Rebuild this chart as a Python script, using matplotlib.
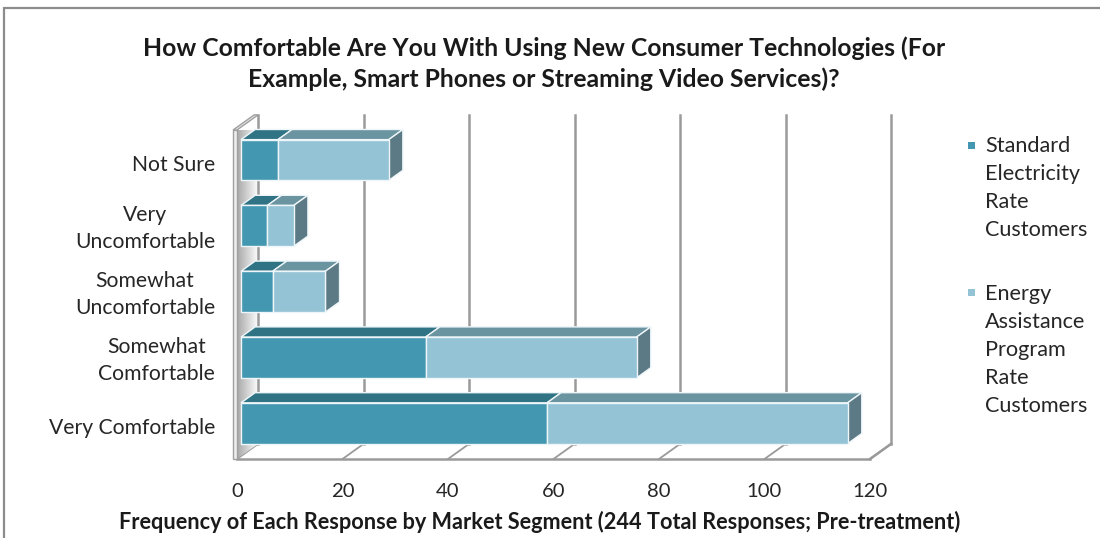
import matplotlib
matplotlib.use("Agg")
import matplotlib.pyplot as plt
import numpy as np
from matplotlib.patches import Polygon, Rectangle
from matplotlib.lines import Line2D

# ---- data -------------------------------------------------------------
categories = ["Very Comfortable", "Somewhat\nComfortable", "Somewhat\nUncomfortable",
              "Very\nUncomfortable", "Not Sure"]
standard_rate = [58, 35, 6, 5, 7]
energy_assistance = [57, 40, 10, 5, 21]
series_names = ["Standard\nElectricity\nRate\nCustomers",
                "Energy\nAssistance\nProgram\nRate\nCustomers"]
x_ticks = [0, 20, 40, 60, 80, 100, 120]

title = ("How Comfortable Are You With Using New Consumer Technologies (For\n"
         "Example, Smart Phones or Streaming Video Services)?")
x_label = "Frequency of Each Response by Market Segment (244 Total Responses; Pre-treatment)"

# ---- style ------------------------------------------------------------
FONT = ["Lato", "DejaVu Sans"]
plt.rcParams["font.family"] = FONT
TEXT = "#262626"
GRID = "#9a9a9a"
# front / top / side shades for each series
SHADES = [("#4397b0", "#2f7384", "#2a6474"),
          ("#93c3d5", "#6b94a1", "#5b7a85")]
DX, DY = 4.0, 0.23          # full depth of the plot box (value units, category units)
Z0, Z1 = 0.19, 0.86         # depth range occupied by the bars
BAR_H = 0.62
XMAX = 120

fig = plt.figure(figsize=(11, 5.38), dpi=100)
ax = fig.add_axes([237 / 1100, 1 - 459 / 538, 633 / 1100, 329 / 538])
ax.set_xlim(0, XMAX)
ax.set_ylim(-0.5, len(categories) - 0.5)
y0, y1 = -0.5, len(categories) - 0.5

# chart border
fig.patches.append(Rectangle((4 / 1100, -0.05), 1.2, 1 - 8 / 538 + 0.05,
                             transform=fig.transFigure, fill=False,
                             edgecolor="#8c8c8c", linewidth=1.6))

# back-wall gridlines
for v in x_ticks[1:]:
    ax.add_line(Line2D([v + DX, v + DX], [y0 + DY, y1 + DY], color=GRID,
                       linewidth=1.8, clip_on=False, zorder=1))
# floor: front edge, depth ticks, right edge
ax.add_line(Line2D([0, XMAX], [y0, y0], color=GRID, linewidth=1.8, clip_on=False, zorder=1))
for v in x_ticks:
    ax.add_line(Line2D([v, v + DX], [y0, y0 + DY], color=GRID, linewidth=1.3,
                       clip_on=False, zorder=1))

# left wall with a soft grey gradient
wall = Polygon([(0, y0), (0, y1), (DX, y1 + DY), (DX, y0 + DY)], closed=True,
               facecolor="none", edgecolor="none", clip_on=False)
ax.add_patch(wall)
grad = np.linspace(0.66, 1.0, 64).reshape(1, -1)
im = ax.imshow(grad, cmap="gray", vmin=0, vmax=1, extent=[0, DX, y0, y1 + DY],
               aspect="auto", zorder=1, interpolation="bicubic")
im.set_clip_path(wall)
ax.add_line(Line2D([DX, DX], [y0 + DY, y1 + DY], color=GRID, linewidth=1.8,
                   clip_on=False, zorder=1))
# thin wall front edge and cap
slab = Polygon([(-0.75, y0), (-0.75, y1), (0, y1), (0, y0)], closed=True,
               facecolor="#eeeeee", edgecolor="#a0a0a0", linewidth=1.0,
               clip_on=False, zorder=2)
ax.add_patch(slab)
cap = Polygon([(-0.75, y1), (DX - 0.75, y1 + DY), (DX, y1 + DY), (0, y1)], closed=True,
              facecolor="#e6e6e6", edgecolor="#a0a0a0", linewidth=1.0,
              clip_on=False, zorder=2)
ax.add_patch(cap)
# right edge of the box
ax.add_line(Line2D([XMAX, XMAX + DX], [y0, y0 + DY], color=GRID, linewidth=1.8,
                   clip_on=False, zorder=1))

# ---- stacked 3-D bars ------------------------------------------------
ypos = np.arange(len(categories))
ox, oy = Z0 * DX, Z0 * DY
ddx, ddy = (Z1 - Z0) * DX, (Z1 - Z0) * DY
left = np.zeros(len(categories))
all_series = [standard_rate, energy_assistance]
for s, vals in enumerate(all_series):
    front, top, side = SHADES[s]
    vals = np.asarray(vals, dtype=float)
    ax.barh(ypos + oy, vals, left=left + ox, height=BAR_H, color=front,
            edgecolor="#eef6f9", linewidth=1.0, zorder=5)
    for i, (l, v) in enumerate(zip(left, vals)):
        if v <= 0:
            continue
        xa, xb = l + ox, l + v + ox
        yt = ypos[i] + oy + BAR_H / 2
        yb = ypos[i] + oy - BAR_H / 2
        ax.add_patch(Polygon([(xa, yt), (xa + ddx, yt + ddy), (xb + ddx, yt + ddy), (xb, yt)],
                             closed=True, facecolor=top, edgecolor="#eef6f9",
                             linewidth=1.0, zorder=4, clip_on=False))
        if s == len(all_series) - 1:
            ax.add_patch(Polygon([(xb, yb), (xb, yt), (xb + ddx, yt + ddy), (xb + ddx, yb + ddy)],
                                 closed=True, facecolor=side, edgecolor="#eef6f9",
                                 linewidth=1.0, zorder=4, clip_on=False))
    left = left + vals

ax.set_xlim(0, XMAX)
ax.set_ylim(y0, y1)

# ---- axes text -------------------------------------------------------
for sp in ax.spines.values():
    sp.set_visible(False)
ax.set_xticks(x_ticks)
ax.set_xticklabels([str(t) for t in x_ticks], fontsize=14.6, color=TEXT)
ax.set_yticks(ypos)
ax.set_yticklabels(categories, fontsize=15.2, color=TEXT, linespacing=1.43)
for lab in ax.get_yticklabels():
    lab.set_multialignment("center")
    if "\n" in lab.get_text():
        lab.set_verticalalignment("center")
ax.tick_params(axis="x", length=0, pad=17.5)
ax.tick_params(axis="y", length=0, pad=15.8)
ax.set_facecolor("none")

fig.text(544 / 1100, 1 - 63.5 / 538, title, ha="center", va="center", fontsize=17.8,
         fontweight="bold", color="#1a1a1a", linespacing=1.38)
fig.text(540 / 1100, 1 - 522 / 538, x_label, ha="center", va="center", fontsize=15.6,
         fontweight="bold", color="#1a1a1a")

# ---- legend ------------------------------------------------------------
leg_tops = [145, 292]
for s, name in enumerate(series_names):
    yc = 1 - leg_tops[s] / 538
    fig.patches.append(Rectangle((968 / 1100, yc - 3.5 / 538), 7 / 1100, 7 / 538,
                                 transform=fig.transFigure, facecolor=SHADES[s][0],
                                 edgecolor="none"))
    fig.text(985 / 1100, yc + 8.5 / 538, name, ha="left", va="top", fontsize=15.6,
             color=TEXT, linespacing=1.5)

fig.savefig("out.png", dpi=100)
